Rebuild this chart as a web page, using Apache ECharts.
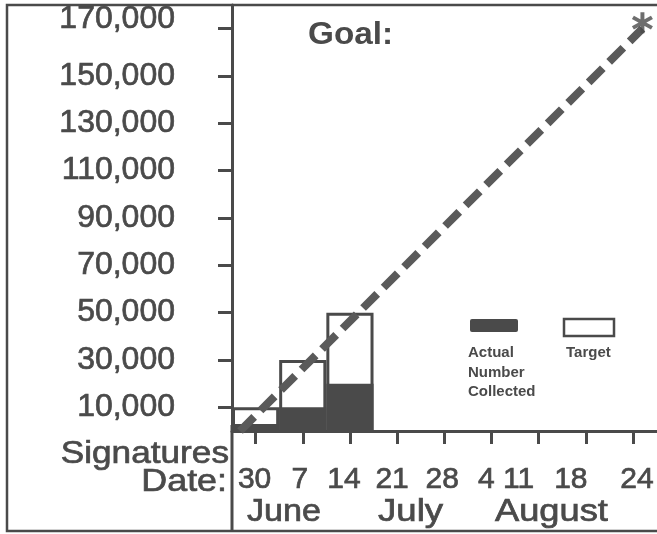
<!DOCTYPE html>
<html>
<head>
<meta charset="utf-8">
<script src="https://cdn.jsdelivr.net/npm/echarts@6/dist/echarts.min.js"></script>
<style>
html,body{margin:0;padding:0;background:#fff;}
#chart{width:657px;height:534px;}
</style>
</head>
<body>
<div id="chart"></div>
<script>
// ---- data ----
const weekLabels = ['30', '7', '14', '21', '28', '4', '11', '18', '24'];
const monthLabels = ['June', 'July', 'August'];
const targetValues = [10000, 30000, 50000];
const actualValues = [3000, 10000, 20000];
const yTickValues = [10000, 30000, 50000, 70000, 90000, 110000, 130000, 150000, 170000];
const goalLineData = [[-0.33, 0], [8.2, 170000]];
const goalPointData = [[8.2, 170000]];
const goalLabel = 'Goal:';
const yTitle = 'Signatures';
const xTitle = 'Date:';
const legendActual = ['Actual', 'Number', 'Collected'];
const legendTarget = 'Target';

// ---- layout / style ----
const INK = '#4a4a4a';
const FONT = '"Liberation Sans", Arial, Helvetica, sans-serif';
const HEAVY = {textBorderColor: INK, textBorderWidth: 0.7};
const weekLabelShift = [-1, -3, -6, -5, -2, -5, -20, -15, 4];
const monthX = [247, 378, 495];
const monthScale = [1.1, 1.18, 1.17];

const rich = {};
weekLabelShift.forEach((d, i) => {
  rich['s' + i] = Object.assign({
    fontSize: 30, fontFamily: FONT, color: INK,
    padding: d < 0 ? [0, -2 * d, 0, 0] : [0, 0, 0, 2 * d]
  }, HEAVY);
});

const asterisk = 'path://M-1.8,-10L1.8,-10L1.8,10L-1.8,10Z' +
  'M7.76,-6.56L9.56,-3.44L-7.76,6.56L-9.56,3.44Z' +
  'M-9.56,-3.44L-7.76,-6.56L9.56,3.44L7.76,6.56Z';

const chart = echarts.init(document.getElementById('chart'), null, {renderer: 'canvas'});

function txt(x, y, text, size, opts) {
  opts = opts || {};
  return {
    type: 'text', x: x, y: y, scaleX: opts.scaleX || 1,
    style: Object.assign({
      text: text, fontSize: size, fontWeight: opts.bold ? 'bold' : 'normal',
      fontFamily: FONT, fill: INK, verticalAlign: 'middle', align: opts.align || 'left'
    }, opts.heavy ? {stroke: INK, lineWidth: 0.7} : {})
  };
}

const graphics = [
  {type: 'rect', shape: {x: 7, y: 5, width: 700, height: 526},
   style: {fill: 'none', stroke: INK, lineWidth: 2.5}, z: 10},
  {type: 'line', shape: {x1: 232, y1: 425, x2: 232, y2: 531},
   style: {stroke: INK, lineWidth: 3}, z: 10},
  txt(308, 35, goalLabel, 32, {bold: true, scaleX: 1.04}),
  txt(229, 454, yTitle, 32, {align: 'right', scaleX: 1.1, heavy: true}),
  txt(227, 482, xTitle, 32, {align: 'right', scaleX: 1.12, heavy: true}),
  // legend
  {type: 'rect', shape: {x: 470, y: 319, width: 48, height: 13, r: 2}, style: {fill: INK}},
  {type: 'rect', shape: {x: 564, y: 319, width: 50, height: 17},
   style: {fill: '#fff', stroke: INK, lineWidth: 2.5}},
  txt(566, 353, legendTarget, 15, {bold: true})
];
legendActual.forEach((t, i) => {
  graphics.push(txt(468, 353 + i * 19.5, t, 15, {bold: true}));
});
monthLabels.forEach((m, i) => {
  graphics.push(txt(monthX[i], 512, m, 31, {scaleX: monthScale[i], heavy: true}));
});

chart.setOption({
  animation: false,
  backgroundColor: '#fff',
  grid: {left: 232, top: 5, right: 0, bottom: 103, containLabel: false},
  xAxis: [
    {
      type: 'category', data: weekLabels, boundaryGap: true,
      axisLine: {show: true, onZero: false, lineStyle: {color: INK, width: 3}},
      axisTick: {show: true, alignWithLabel: true, length: 13, lineStyle: {color: INK, width: 3}},
      axisLabel: {
        margin: 34, interval: 0,
        formatter: (v, i) => '{s' + i + '|' + v + '}',
        rich: rich
      },
      splitLine: {show: false}
    },
    {type: 'value', min: -0.5, max: 8.5, show: false, axisLine: {onZero: false}}
  ],
  yAxis: {
    type: 'value', min: 0, max: 180000,
    axisLine: {show: true, onZero: false, lineStyle: {color: INK, width: 3}},
    axisTick: {show: true, length: 14, customValues: yTickValues, lineStyle: {color: INK, width: 3}},
    axisLabel: {
      show: true, margin: 57, customValues: yTickValues,
      formatter: v => {
        const s = Number(v).toLocaleString('en-US');
        return v === 170000 ? '{top|' + s + '}' : '{n|' + s + '}';
      },
      rich: {
        n: Object.assign({fontSize: 32, fontFamily: FONT, color: INK}, HEAVY),
        top: Object.assign({fontSize: 32, fontFamily: FONT, color: INK, padding: [0, 0, 18, 0]}, HEAVY)
      }
    },
    splitLine: {show: false}
  },
  series: [
    {
      name: 'Target', type: 'bar', data: targetValues, barWidth: '100%', barGap: '-100%',
      itemStyle: {color: '#fff', borderColor: INK, borderWidth: 3}, z: 2
    },
    {
      name: 'Actual Number Collected', type: 'bar', data: actualValues, barWidth: '100%', barGap: '-100%',
      itemStyle: {color: INK, borderWidth: 0}, z: 3
    },
    {
      name: 'Goal line', type: 'line', xAxisIndex: 1, data: goalLineData, symbol: 'none',
      lineStyle: {color: '#5a5a5a', width: 8, type: [20, 9], cap: 'butt'}, z: 4
    },
    {
      name: 'Goal', type: 'scatter', xAxisIndex: 1, data: goalPointData,
      symbol: asterisk, symbolSize: 21, symbolOffset: [0, -6],
      itemStyle: {color: INK}, z: 5
    }
  ],
  graphic: graphics
});
</script>
</body>
</html>
